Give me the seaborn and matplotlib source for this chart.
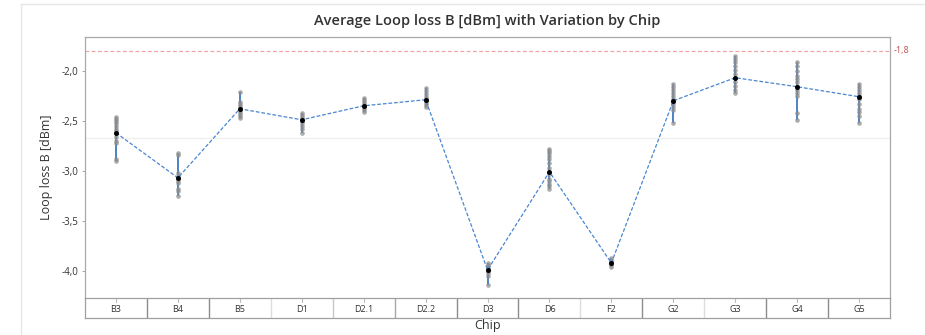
import numpy as np
import pandas as pd
import matplotlib
matplotlib.use("Agg")
import matplotlib.pyplot as plt
import seaborn as sns
from matplotlib.lines import Line2D

chips = ["B3", "B4", "B5", "D1", "D2.1", "D2.2", "D3", "D6", "F2", "G2", "G3", "G4", "G5"]

b3 = [-2.46, -2.48, -2.50, -2.52, -2.55, -2.58, -2.60, -2.62, -2.66, -2.70, -2.72, -2.88, -2.90]
b4 = [-2.82, -2.84, -3.02, -3.05, -3.08, -3.10, -3.12, -3.18, -3.20, -3.25]
b5 = [-2.21, -2.31, -2.33, -2.35, -2.37, -2.39, -2.41, -2.43, -2.45, -2.47]
d1 = [-2.42, -2.44, -2.46, -2.48, -2.50, -2.52, -2.55, -2.58, -2.62]
d21 = [-2.27, -2.29, -2.31, -2.33, -2.35, -2.37, -2.39, -2.41]
d22 = [-2.17, -2.20, -2.23, -2.26, -2.28, -2.30, -2.32, -2.34, -2.36]
d3 = [-3.92, -3.94, -3.95, -3.97, -3.99, -4.00, -4.02, -4.05, -4.14]
d6 = [-2.78, -2.80, -2.82, -2.85, -2.88, -2.92, -2.97, -3.03, -3.08, -3.10, -3.13, -3.15, -3.18]
f2 = [-3.87, -3.89, -3.90, -3.91, -3.92, -3.93, -3.94, -3.96]
g2 = [-2.13, -2.16, -2.19, -2.22, -2.25, -2.28, -2.31, -2.33, -2.36, -2.39, -2.52]
g3 = [-1.85, -1.88, -1.91, -1.95, -1.99, -2.03, -2.07, -2.11, -2.15, -2.19, -2.22]
g4 = [-1.91, -1.95, -2.00, -2.05, -2.08, -2.11, -2.15, -2.19, -2.22, -2.25, -2.42, -2.49]
g5 = [-2.13, -2.16, -2.19, -2.22, -2.25, -2.28, -2.33, -2.38, -2.41, -2.45, -2.52]

mean_loss = [-2.62, -3.07, -2.38, -2.49, -2.35, -2.29, -3.99, -3.01, -3.92, -2.30, -2.07, -2.16, -2.26]
ref_value = -1.8

values = [b3, b4, b5, d1, d21, d22, d3, d6, f2, g2, g3, g4, g5]
df = pd.DataFrame({
    "chip": [c for c, v in zip(chips, values) for _ in v],
    "loss": [x for v in values for x in v],
})

sns.set_theme(style="white")
plt.rcParams["font.family"] = ["Open Sans", "DejaVu Sans"]

fig = plt.figure(figsize=(9.25, 3.35), dpi=100)
ax = fig.add_axes([0.0919, 0.1104, 0.8703, 0.7792])
axb = fig.add_axes([0.0919, 0.0507, 0.8703, 0.0597], sharex=ax)

# faint outer frame of the graph
fig.add_artist(Line2D([21 / 925, 1], [1 - 4 / 335] * 2, color="#e6e6e6", lw=1))
fig.add_artist(Line2D([21 / 925] * 2, [0, 1 - 4 / 335], color="#e6e6e6", lw=1))

ax.axhline(-2.67, color="#efefef", lw=1, zorder=0)
ax.axhline(ref_value, color="#f2a3a3", lw=0.9, ls=(0, (3, 2)), zorder=1)

rng = df.groupby("chip")["loss"].agg(["min", "max"]).reindex(chips)
ax.vlines(np.arange(len(chips)), rng["min"], rng["max"], color="#3b78c2", lw=1.3, zorder=2)

sns.stripplot(data=df, x="chip", y="loss", order=chips, jitter=False, color="#8e8e8e",
              size=3.3, alpha=0.75, linewidth=0, ax=ax, zorder=3)

sns.lineplot(x=np.arange(len(chips)), y=mean_loss, color="#4a86d0", lw=0.9,
             linestyle=(0, (3, 1.5)), ax=ax, zorder=4)
ax.scatter(np.arange(len(chips)), mean_loss, s=13, color="black", zorder=5, linewidths=0)

ax.set_xlim(-0.5, len(chips) - 0.5)
ax.set_ylim(-4.27, -1.663)
yt = [-2.0, -2.5, -3.0, -3.5, -4.0]
ax.set_yticks(yt)
ax.set_yticklabels([f"{v:.1f}".replace(".", ",") for v in yt], fontsize=7, color="#333333")
ax.tick_params(axis="y", length=2, width=0.6, color="#999999", pad=3, left=True)
ax.tick_params(axis="x", bottom=False, labelbottom=False)
ax.set_xlabel("")
ax.set_ylabel("Loop loss B [dBm]", fontsize=9, color="#333333", labelpad=6)
for s in ["left", "top", "right"]:
    ax.spines[s].set_color("#a8a8a8")
    ax.spines[s].set_linewidth(0.9)
ax.spines["bottom"].set_visible(False)

ax.text(1.004, ref_value, f"{ref_value:.1f}".replace(".", ","), transform=ax.get_yaxis_transform(),
        color="#c0504d", fontsize=6.5, va="center", ha="left")

ax.set_title("Average Loop loss B [dBm] with Variation by Chip", fontsize=10.5,
             fontweight="semibold", color="#333333", pad=9)

# category strip below the plot
axb.set_ylim(0, 1)
axb.set_yticks([])
axb.tick_params(axis="x", bottom=False, labelbottom=False)
for s in axb.spines.values():
    s.set_color("#a0a0a0")
    s.set_linewidth(0.9)
sep_colors = ["#8c8c8c", "#8c8c8c", "#dddddd", "#c8c8c8", "#a8a8a8", "#8c8c8c",
              "#8c8c8c", "#dddddd", "#8c8c8c", "#dddddd", "#8c8c8c", "#8c8c8c"]
for i, c in enumerate(sep_colors):
    axb.axvline(i + 0.5, color=c, lw=1)
for i, c in enumerate(chips):
    axb.plot([i, i], [0.8, 1.0], color="#bbbbbb", lw=0.8)
    axb.text(i, 0.42, c, ha="center", va="center", fontsize=6.5, color="#333333")
axb.set_xlabel("Chip", fontsize=9, color="#333333", labelpad=1)

fig.savefig("out.png", dpi=100)
